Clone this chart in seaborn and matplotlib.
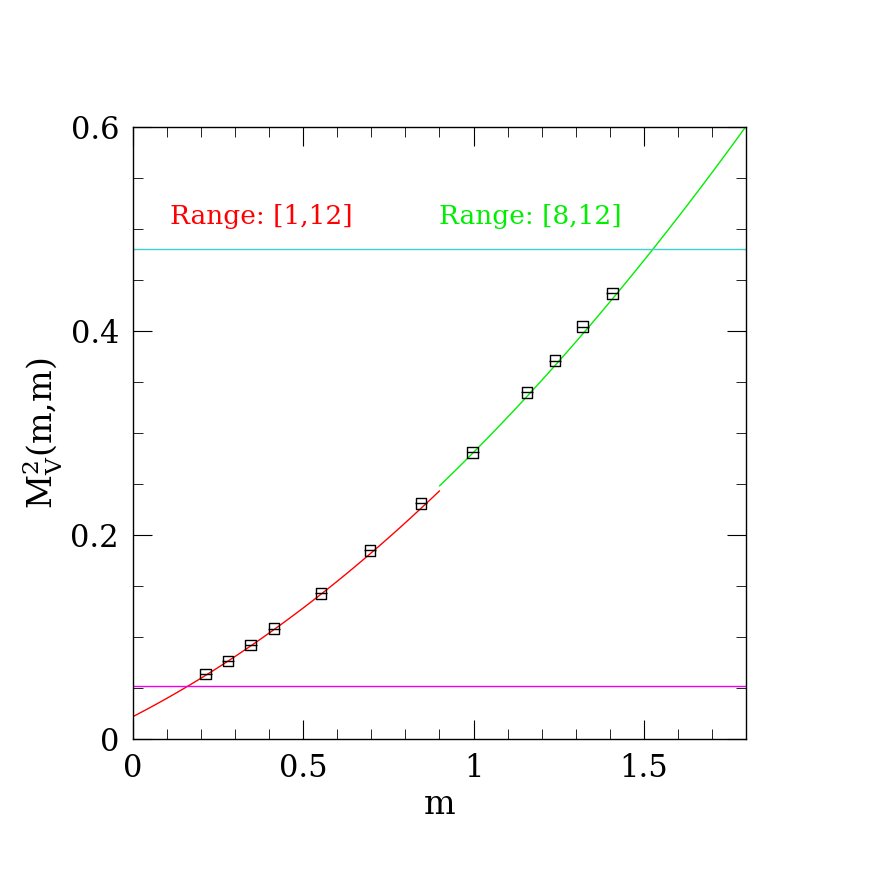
import matplotlib
matplotlib.use("Agg")
import matplotlib.pyplot as plt
import seaborn as sns
import numpy as np
import pandas as pd
from matplotlib.ticker import MultipleLocator, FuncFormatter

m_vals = [0.214, 0.279, 0.346, 0.414, 0.552, 0.696, 0.846, 0.998, 1.157, 1.239, 1.321, 1.407]
mv2_vals = [0.0637, 0.0765, 0.0922, 0.108, 0.143, 0.185, 0.231, 0.281, 0.340, 0.371, 0.404, 0.437]
xerr_vals = [0.018] * 12
red_fit = [0.022, 0.172, 0.082]    # a, b, c for range [1,12]
green_fit = [0.022, 0.181, 0.078]  # a, b, c for range [8,12]
cyan_level = 0.480
magenta_level = 0.052

sns.set_style("ticks")
plt.rcParams['font.family'] = ['DejaVu Serif']
plt.rcParams['text.color'] = 'black'
fig = plt.figure(figsize=(8.72, 8.72), dpi=100)
ax = fig.add_axes([0.1525, 0.1525, 0.703, 0.702])

xr = np.linspace(0, 0.9, 100)
xg = np.linspace(0.9, 1.8, 100)
ax.plot(xr, red_fit[0] + red_fit[1]*xr + red_fit[2]*xr**2, color='red', lw=1)
ax.plot(xg, green_fit[0] + green_fit[1]*xg + green_fit[2]*xg**2, color='#00ee00', lw=1)
ax.axhline(cyan_level, color='#40d0d0', lw=1)
ax.axhline(magenta_level, color='#ee00ee', lw=1)

df = pd.DataFrame({'m': m_vals, 'mv2': mv2_vals})
ax.errorbar(m_vals, mv2_vals, xerr=xerr_vals, fmt='none', ecolor='black', lw=1)
sns.scatterplot(data=df, x='m', y='mv2', marker='s', s=60, facecolor='none',
                edgecolor='black', linewidth=1, ax=ax, zorder=5)

ax.text(0.11, 0.505, 'Range: [1,12]', color='red', fontsize=19)
ax.text(0.90, 0.505, 'Range: [8,12]', color='#00ee00', fontsize=19)

ax.set_xlim(0, 1.8)
ax.set_ylim(0, 0.6)
ax.xaxis.set_major_locator(MultipleLocator(0.5))
ax.xaxis.set_minor_locator(MultipleLocator(0.1))
ax.yaxis.set_major_locator(MultipleLocator(0.2))
ax.yaxis.set_minor_locator(MultipleLocator(0.05))
ax.xaxis.set_major_formatter(FuncFormatter(lambda v, p: f"{v:g}"))
ax.yaxis.set_major_formatter(FuncFormatter(lambda v, p: f"{v:g}"))
ax.tick_params(which='both', direction='in', top=True, right=True, labelsize=22, pad=10,
               colors='black')
ax.tick_params(which='major', length=14)
ax.tick_params(which='minor', length=7)
for s in ax.spines.values():
    s.set_linewidth(1)
    s.set_color('black')
ax.set_xlabel('m', fontsize=24, color='black')
ax.set_ylabel(r'M$_\mathregular{V}^\mathregular{2}$(m,m)', fontsize=24, color='black')
fig.savefig('out.png', dpi=100, facecolor='white')
